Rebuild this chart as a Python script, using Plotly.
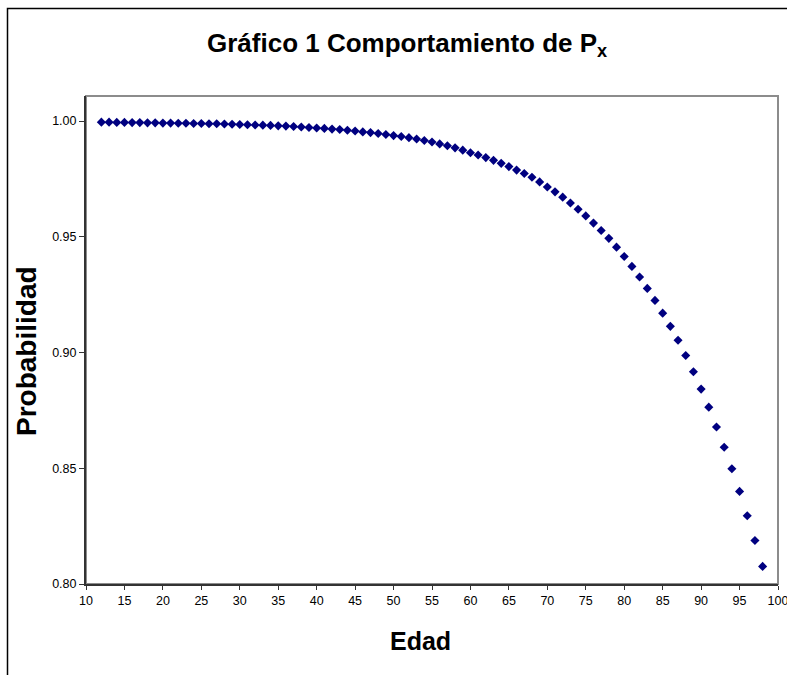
import plotly.graph_objects as go

# Edad (x)
edad = list(range(12, 99))
# Probabilidad P_x
px_vals = [
    0.9995, 0.9995, 0.9994, 0.9994, 0.9993, 0.9993, 0.9992, 0.9992, 0.9991, 0.9991,  # 12-21
    0.9990, 0.9990, 0.9989, 0.9989, 0.9988, 0.9988, 0.9987, 0.9986, 0.9985, 0.9984,  # 22-31
    0.9983, 0.9982, 0.9981, 0.9979, 0.9978, 0.9976, 0.9974, 0.9972, 0.9970, 0.9968,  # 32-41
    0.9965, 0.9963, 0.9960, 0.9957, 0.9953, 0.9950, 0.9946, 0.9942, 0.9937, 0.9933,  # 42-51
    0.9928, 0.9922, 0.9916, 0.9909, 0.9901, 0.9893, 0.9884, 0.9874, 0.9863, 0.9853,  # 52-61
    0.9842, 0.9830, 0.9817, 0.9803, 0.9788, 0.9773, 0.9757, 0.9737, 0.9715, 0.9694,  # 62-71
    0.9671, 0.9646, 0.9619, 0.9590, 0.9559, 0.9527, 0.9493, 0.9455, 0.9415, 0.9372,  # 72-81
    0.9326, 0.9277, 0.9225, 0.9170, 0.9113, 0.9053, 0.8987, 0.8917, 0.8842, 0.8764,  # 82-91
    0.8678, 0.8591, 0.8498, 0.8400, 0.8295, 0.8188, 0.8076                          # 92-98
]

x_ticks = list(range(10, 101, 5))
y_ticks = [0.80, 0.85, 0.90, 0.95, 1.00]
y_labels = ["0.80", "0.85", "0.90", "0.95", "1.00"]

FONT = "Arial, Liberation Sans, sans-serif"

fig = go.Figure()
fig.add_trace(go.Scatter(
    x=edad, y=px_vals, mode="markers",
    marker=dict(symbol="diamond", size=7, color="#000080", line=dict(width=0)),
    showlegend=False,
))

W, H = 787, 675
L, R, T, B = 86, 9, 96, 91
pw, ph = W - L - R, H - T - B

def pxx(xp):
    return (xp - L) / pw

def pxy(yp):
    return (H - B - yp) / ph

fig.update_layout(
    width=W, height=H,
    margin=dict(l=L, r=R, t=T, b=B, pad=0, autoexpand=False),
    paper_bgcolor="white", plot_bgcolor="white",
    font=dict(family=FONT, color="black", size=12.5),
    xaxis=dict(
        range=[10, 100], tickvals=x_ticks, ticktext=[str(v) for v in x_ticks],
        showgrid=False, zeroline=False, automargin=False,
        showline=True, linecolor="#333333", linewidth=2,
        ticks="outside", ticklen=4, tickcolor="#333333", tickwidth=1,
        tickfont=dict(size=12.5, color="black"),
        ticklabeloverflow="allow",
    ),
    yaxis=dict(
        range=[0.80, 1.0108], tickvals=y_ticks, ticktext=y_labels,
        showgrid=False, zeroline=False, automargin=False,
        showline=True, linecolor="#333333", linewidth=2,
        ticks="outside", ticklen=5, tickcolor="#333333", tickwidth=1,
        tickfont=dict(size=12.5, color="black"),
    ),
    shapes=[
        # plot area border
        dict(type="rect", xref="paper", yref="paper", x0=0, x1=1, y0=0, y1=1,
             line=dict(color="#8c8c8c", width=2), layer="below"),
        # chart area border
        dict(type="rect", xref="paper", yref="paper",
             x0=pxx(7.5), x1=pxx(800), y0=pxy(700), y1=pxy(8.5),
             line=dict(color="black", width=1.5)),
    ],
    annotations=[
        dict(text="<b>Gráfico 1 Comportamiento de P<sub>x</sub></b>",
             xref="paper", yref="paper", x=pxx(407), y=pxy(44),
             xanchor="center", yanchor="middle", showarrow=False,
             font=dict(size=26, family=FONT, color="black")),
        dict(text="<b>Edad</b>", xref="paper", yref="paper",
             x=pxx(420), y=pxy(641), xanchor="center", yanchor="middle",
             showarrow=False, font=dict(size=25, family=FONT, color="black")),
        dict(text="<b>Probabilidad</b>", xref="paper", yref="paper",
             x=pxx(26), y=pxy(351), xanchor="center", yanchor="middle",
             textangle=-90, showarrow=False,
             font=dict(size=28, family=FONT, color="black")),
    ],
)

fig.write_html("out.html")
